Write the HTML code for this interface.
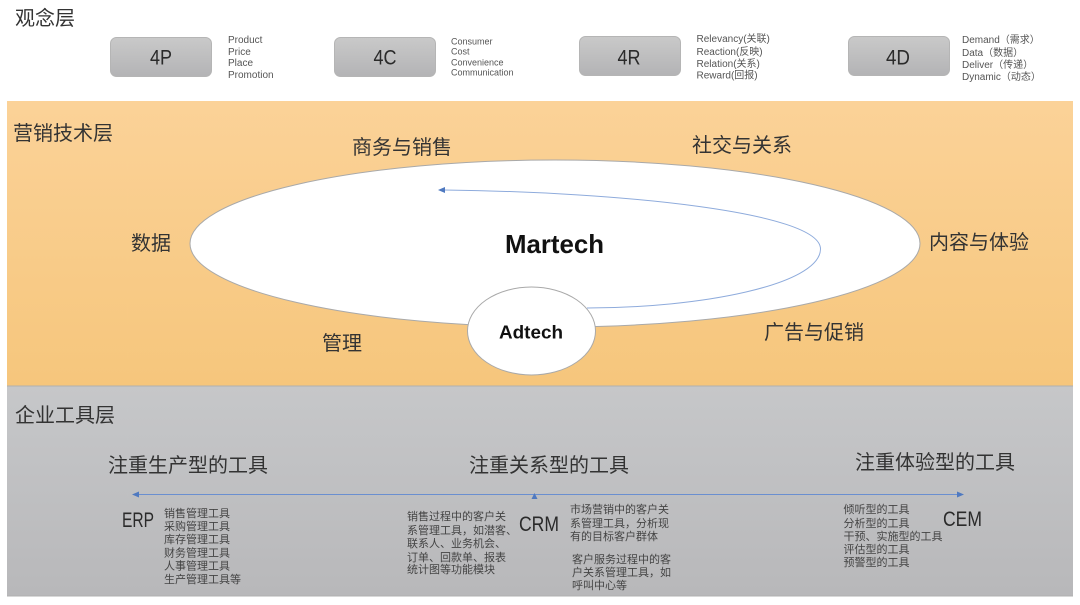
<!DOCTYPE html>
<html lang="zh">
<head>
<meta charset="utf-8">
<style>
html,body{margin:0;padding:0;background:#fff;width:1080px;height:605px;overflow:hidden}
svg{display:block;filter:blur(.35px)}
text{font-family:"Liberation Sans","Noto Sans CJK SC",sans-serif}
.h{font-size:20px;fill:#333}
.s{font-size:10px;fill:#555}
.c{font-size:11px;fill:#444}
.b{font-size:21px;fill:#2a2a2a}
.m{font-weight:bold;fill:#111}
</style>
</head>
<body>
<svg width="1080" height="605" viewBox="0 0 1080 605" xmlns="http://www.w3.org/2000/svg">
<defs>
<linearGradient id="o" x1="0" y1="0" x2="0" y2="1"><stop offset="0" stop-color="#fbd298"/><stop offset="1" stop-color="#f6c67c"/></linearGradient>
<linearGradient id="g" x1="0" y1="0" x2="0" y2="1"><stop offset="0" stop-color="#c6c7c9"/><stop offset="1" stop-color="#b8b8ba"/></linearGradient>
<linearGradient id="k" x1="0" y1="0" x2="0" y2="1"><stop offset="0" stop-color="#c9c9c9"/><stop offset="1" stop-color="#b3b3b5"/></linearGradient>
</defs>
<rect width="1080" height="605" fill="#fff"/>
<rect x="7" y="101" width="1066" height="285" fill="url(#o)"/>
<rect x="7" y="386" width="1066" height="210" fill="url(#g)"/>
<line x1="7" y1="386" x2="1073" y2="386" stroke="#b0b0b0"/>
<line x1="7" y1="596" x2="1073" y2="596" stroke="#b0b0b0"/>

<text class="h" x="15" y="25">观念层</text>
<rect x="110.500" y="37.500" width="101" height="39" rx="6" fill="url(#k)" stroke="#b5b5b5"/>
<rect x="334.500" y="37.500" width="101" height="39" rx="6" fill="url(#k)" stroke="#b5b5b5"/>
<rect x="579.500" y="36.500" width="101" height="39" rx="6" fill="url(#k)" stroke="#b5b5b5"/>
<rect x="848.500" y="36.500" width="101" height="39" rx="6" fill="url(#k)" stroke="#b5b5b5"/>
<text class="b" x="161" y="64.500" text-anchor="middle" textLength="22" lengthAdjust="spacingAndGlyphs">4P</text>
<text class="b" x="385" y="64.500" text-anchor="middle" textLength="23" lengthAdjust="spacingAndGlyphs">4C</text>
<text class="b" x="629" y="64.500" text-anchor="middle" textLength="23" lengthAdjust="spacingAndGlyphs">4R</text>
<text class="b" x="898" y="64.500" text-anchor="middle" textLength="24" lengthAdjust="spacingAndGlyphs">4D</text>

<text class="s" x="228" y="43">Product</text>
<text class="s" x="228" y="55">Price</text>
<text class="s" x="228" y="66">Place</text>
<text class="s" x="228" y="78">Promotion</text>

<text class="s" style="font-size:9px" x="451" y="44.500">Consumer</text>
<text class="s" style="font-size:9px" x="451" y="54.500">Cost</text>
<text class="s" style="font-size:9px" x="451" y="65.500">Convenience</text>
<text class="s" style="font-size:9px" x="451" y="75.500">Communication</text>

<text class="s" x="696.500" y="42">Relevancy(关联)</text>
<text class="s" x="696.500" y="55">Reaction(反映)</text>
<text class="s" x="696.500" y="67">Relation(关系)</text>
<text class="s" x="696.500" y="78.500">Reward(回报)</text>

<text class="s" x="962" y="43">Demand（需求）</text>
<text class="s" x="962" y="56">Data（数据）</text>
<text class="s" x="962" y="68">Deliver（传递）</text>
<text class="s" x="962" y="80">Dynamic（动态）</text>

<text class="h" x="13" y="140">营销技术层</text>
<text class="h" x="352" y="154">商务与销售</text>
<text class="h" x="692" y="152">社交与关系</text>
<text class="h" x="131" y="250">数据</text>
<text class="h" x="929" y="249">内容与体验</text>
<text class="h" x="322" y="350">管理</text>
<text class="h" x="764" y="339">广告与促销</text>

<ellipse cx="555" cy="243.500" rx="365" ry="83.500" fill="#fff" stroke="#a9a9a9" stroke-width="1"/>
<path d="M587,308 C700,308 820,285 820.500,249 C820.500,212 620,192 444,190" fill="none" stroke="#8eabdc" stroke-width="1"/>
<path d="M438,190 L445,187 L445,193 Z" fill="#4f79c0"/>
<ellipse cx="531.500" cy="331" rx="64" ry="44" fill="#fff" stroke="#a9a9a9" stroke-width="1"/>
<text class="m" x="554.500" y="253" text-anchor="middle" font-size="26" textLength="99" lengthAdjust="spacingAndGlyphs">Martech</text>
<text class="m" x="531" y="338.500" text-anchor="middle" font-size="18" textLength="64" lengthAdjust="spacingAndGlyphs">Adtech</text>

<text class="h" x="15" y="422">企业工具层</text>
<text class="h" x="108" y="472">注重生产型的工具</text>
<text class="h" x="469" y="472">注重关系型的工具</text>
<text class="h" x="855" y="469">注重体验型的工具</text>

<line x1="138" y1="494.500" x2="958" y2="494.500" stroke="#6a8fd0" stroke-width="1"/>
<path d="M132,494.500 L139,491.500 L139,497.500 Z" fill="#4f79c0"/>
<path d="M964,494.500 L957,491.500 L957,497.500 Z" fill="#4f79c0"/>
<path d="M534.500,493 L531.500,499 L537.500,499 Z" fill="#4f79c0"/>

<text class="b" x="122" y="527" textLength="32" lengthAdjust="spacingAndGlyphs">ERP</text>
<text class="b" x="519" y="531" textLength="40" lengthAdjust="spacingAndGlyphs">CRM</text>
<text class="b" x="943" y="526" textLength="39" lengthAdjust="spacingAndGlyphs">CEM</text>

<text class="c" x="164" y="517">销售管理工具</text>
<text class="c" x="164" y="530">采购管理工具</text>
<text class="c" x="164" y="543">库存管理工具</text>
<text class="c" x="164" y="556.500">财务管理工具</text>
<text class="c" x="164" y="569.500">人事管理工具</text>
<text class="c" x="164" y="583">生产管理工具等</text>

<text class="c" x="407" y="520">销售过程中的客户关</text>
<text class="c" x="407" y="534">系管理工具，如潜客、</text>
<text class="c" x="407" y="547">联系人、业务机会、</text>
<text class="c" x="407" y="561">订单、回款单、报表</text>
<text class="c" x="407" y="573">统计图等功能模块</text>

<text class="c" x="570" y="513">市场营销中的客户关</text>
<text class="c" x="570" y="527">系管理工具，分析现</text>
<text class="c" x="570" y="540">有的目标客户群体</text>
<text class="c" x="572" y="563">客户服务过程中的客</text>
<text class="c" x="572" y="576">户关系管理工具，如</text>
<text class="c" x="572" y="589">呼叫中心等</text>

<text class="c" x="843.500" y="513">倾听型的工具</text>
<text class="c" x="843.500" y="527">分析型的工具</text>
<text class="c" x="843.500" y="540">干预、实施型的工具</text>
<text class="c" x="843.500" y="553">评估型的工具</text>
<text class="c" x="843.500" y="566">预警型的工具</text>
</svg>
</body>
</html>
